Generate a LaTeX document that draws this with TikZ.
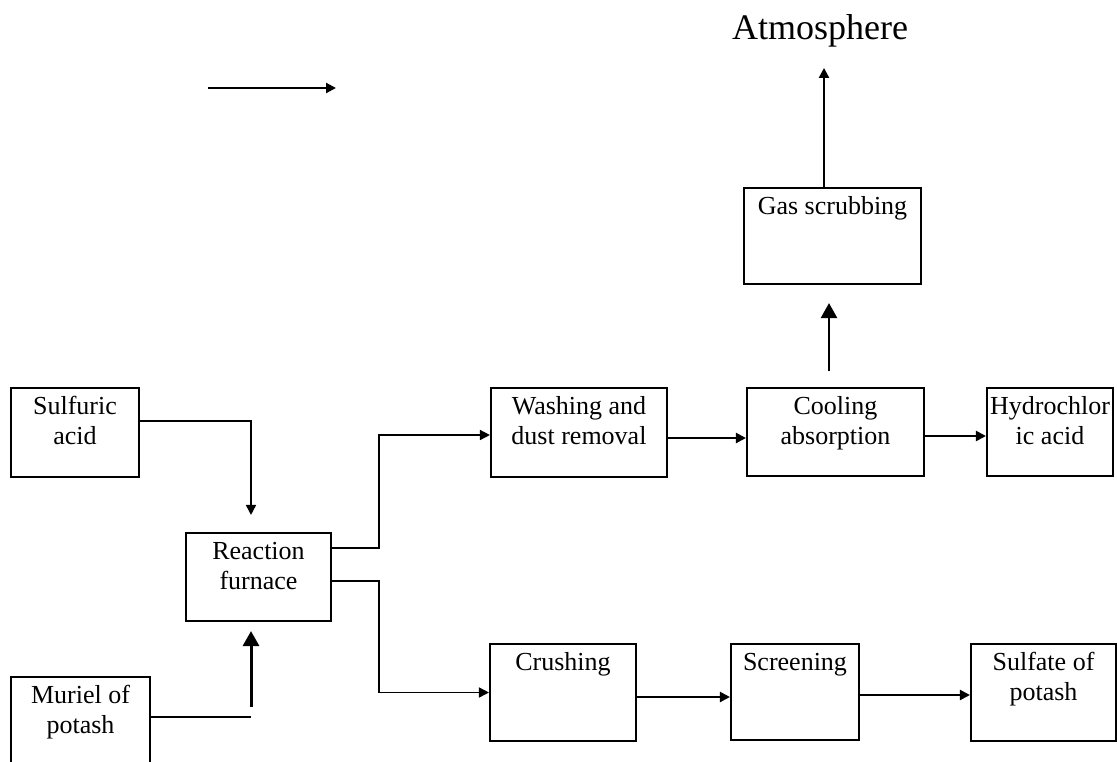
\documentclass[tikz,border=0pt]{standalone}
\usepackage{fontspec}
\setmainfont{Liberation Serif}
\usetikzlibrary{arrows.meta}
\newcommand{\bxt}[3]{\parbox[t][#2pt][t]{#1pt}{\centering\rule{0pt}{26.5pt}#3}}
\begin{document}
\begin{tikzpicture}[x=1pt,y=-1pt,
  box/.style={draw, line width=2.1pt, inner sep=0pt, font=\fontsize{26}{30}\selectfont},
  conn/.style={line width=2.2pt},
  arr/.style={conn, -{Triangle[length=10pt,width=10pt]}},
  bigarr/.style={line width=3pt, -{Triangle[length=15pt,width=16pt]}},
  thinline/.style={line width=1.6pt}]
\clip (0,0) rectangle (1117,761);
% boxes
\node[box] (sa) at (75,432.5) {\bxt{128}{89}{Sulfuric\\acid}};
\node[box] (rf) at (258.5,577) {\bxt{145}{88}{Reaction\\furnace}};
\node[box] (mp) at (80.5,721.5) {\bxt{139}{89}{Muriel of\\potash}};
\node[box] (wd) at (579,432.5) {\bxt{176}{89}{Washing and\\dust removal}};
\node[box] (ca) at (835.5,432) {\bxt{177}{88}{Cooling\\absorption}};
\node[box] (hc) at (1050,432) {\bxt{126}{88}{Hydrochlor\\ic acid}};
\node[box] (gs) at (832.5,236) {\bxt{177}{96}{Gas scrubbing}};
\node[box] (cr) at (563,692.5) {\bxt{146}{97}{Crushing}};
\node[box] (sc) at (795,692) {\bxt{128}{96}{Screening}};
\node[box] (sp) at (1043.5,692.5) {\bxt{145}{97}{Sulfate of\\potash}};
\node[inner sep=0pt, anchor=base, font=\fontsize{36}{40}\selectfont] (atm) at (820,39) {Atmosphere};
% coordinates
\coordinate (la) at (208,88);
\coordinate (lb) at (336,88);
\coordinate (mj) at (251,717);
\coordinate (ms) at (251,707);
\coordinate (bu) at (379,500);
\coordinate (bl) at (379,640);
% connectors
\draw[arr] (la) -- (lb);
\draw[arr, thinline] (sa.east |- 0,421) -| ([xshift=-7.5pt,yshift=17pt]rf.north);
\draw[thinline] (mp.east |- mj) -- (mj);
\draw[bigarr] (ms) -- ([xshift=-7.5pt,yshift=-9pt]rf.south);
\draw[arr, thinline] ([yshift=29pt]rf.east) -| (bu) |- (wd.west |- 0,435);
\draw[arr, thinline] ([yshift=-4pt]rf.east) -| (bl) |- (cr.west);
\draw[arr] (wd.east |- 0,438) -- (ca.west |- 0,438);
\draw[arr] (ca.east |- 0,436) -- (hc.west |- 0,436);
\draw[bigarr, line width=2.5pt] ([xshift=-6.5pt,yshift=16pt]ca.north) -- ([xshift=-3.5pt,yshift=-18pt]gs.south);
\draw[arr] ([xshift=-8.5pt]gs.north) -- ++(0,-119);
\draw[arr] (cr.east |- 0,697) -- (sc.west |- 0,697);
\draw[arr] (sc.east |- 0,695) -- (sp.west |- 0,695);
\end{tikzpicture}
\end{document}
